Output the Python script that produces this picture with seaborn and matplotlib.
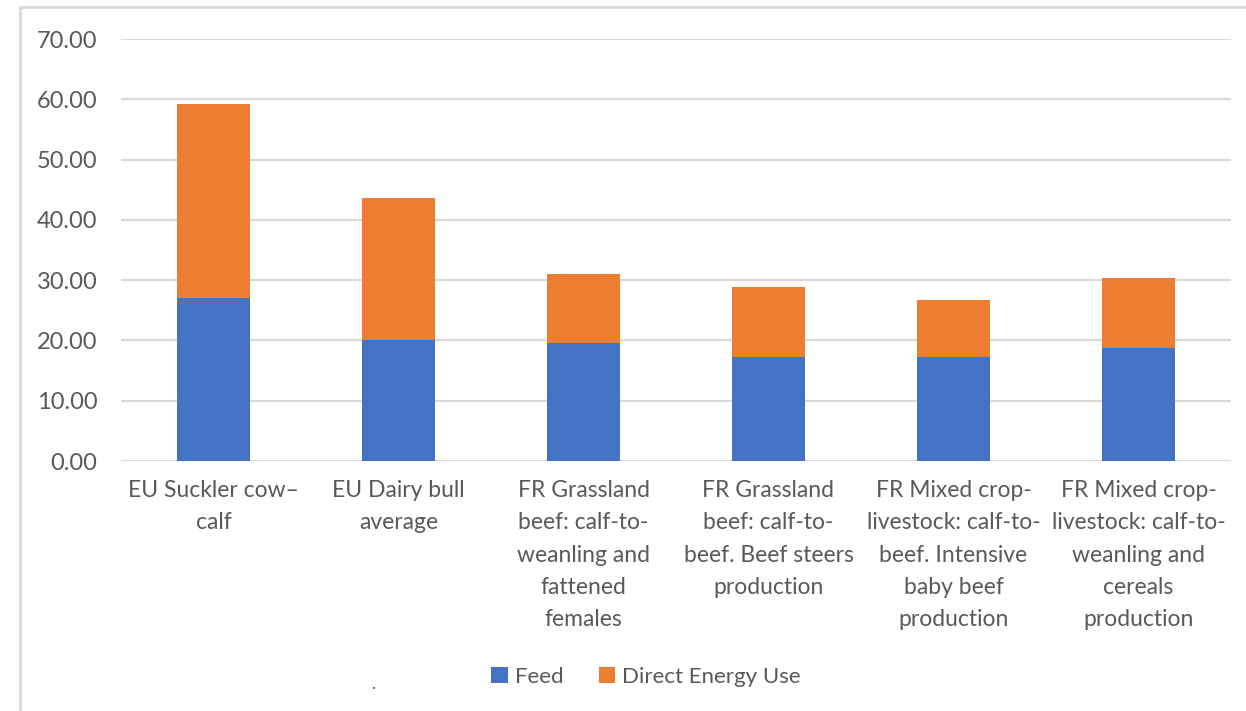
import matplotlib
matplotlib.use("Agg")
import matplotlib.pyplot as plt
from matplotlib.lines import Line2D
from matplotlib.patches import Patch
import seaborn as sns
import pandas as pd

categories = [
    "EU Suckler cow–\ncalf",
    "EU Dairy bull\naverage",
    "FR Grassland\nbeef: calf-to-\nweanling and\nfattened\nfemales",
    "FR Grassland\nbeef: calf-to-\nbeef. Beef steers\nproduction",
    "FR Mixed crop-\nlivestock: calf-to-\nbeef. Intensive\nbaby beef\nproduction",
    "FR Mixed crop-\nlivestock: calf-to-\nweanling and\ncereals\nproduction",
]
feed = [27.1, 20.0, 19.5, 17.3, 17.3, 18.7]
direct_energy = [32.2, 23.7, 11.5, 11.6, 9.4, 11.6]
series_names = ["Feed", "Direct Energy Use"]
y_ticks = [0, 10, 20, 30, 40, 50, 60, 70]

BLUE = "#4472C4"
ORANGE = "#ED7D31"
GRID = "#d9d9d9"
TEXT = "#595959"

sns.set_theme(style="white")
plt.rcParams["font.family"] = ["Lato", "DejaVu Sans"]

df = pd.DataFrame({
    "category": categories,
    "feed": feed,
    "total": [f + d for f, d in zip(feed, direct_energy)],
})

fig = plt.figure(figsize=(12.46, 7.11), dpi=100)
ax = fig.add_axes([121 / 1246, 250 / 711, 1110 / 1246, 422 / 711])

# stacked bars: full height in orange, feed share overlaid in blue
sns.barplot(data=df, x="category", y="total", color=ORANGE, width=0.395,
            saturation=1, linewidth=0, ax=ax, zorder=3)
sns.barplot(data=df, x="category", y="feed", color=BLUE, width=0.395,
            saturation=1, linewidth=0, ax=ax, zorder=4)

ax.set_xlim(-0.5, len(categories) - 0.5)
ax.set_ylim(0, 70)
ax.set_yticks(y_ticks)
ax.set_yticklabels([f"{v:.2f}" for v in y_ticks])
ax.yaxis.grid(True, color=GRID, linewidth=1.6, zorder=0)
ax.set_axisbelow(True)
for s in ax.spines.values():
    s.set_visible(False)
ax.set_xlabel("")
ax.set_ylabel("")
ax.tick_params(axis="y", length=0, pad=17, labelsize=17, labelcolor=TEXT)
ax.tick_params(axis="x", length=0, pad=14, labelsize=16.5, labelcolor=TEXT)
for lbl in ax.get_xticklabels():
    lbl.set_linespacing(1.65)
    lbl.set_verticalalignment("top")

# outer chart frame (top and left edges)
fig.add_artist(Line2D([20 / 1246, 1], [1 - 7 / 711, 1 - 7 / 711],
                      transform=fig.transFigure, color=GRID, linewidth=2))
fig.add_artist(Line2D([20 / 1246, 20 / 1246], [0, 1 - 7 / 711],
                      transform=fig.transFigure, color=GRID, linewidth=2))

handles = [Patch(facecolor=BLUE, edgecolor="none"),
           Patch(facecolor=ORANGE, edgecolor="none")]
fig.legend(handles, series_names, loc="center", ncol=2,
           bbox_to_anchor=(646 / 1246, 1 - 677 / 711), frameon=False,
           fontsize=16, labelcolor=TEXT, handlelength=0.75, handleheight=0.75,
           handletextpad=0.3, columnspacing=1.6)

fig.text(373 / 1246, 1 - 684 / 711, ".", color=TEXT, fontsize=12,
         ha="center", va="center")

fig.savefig("out.png", dpi=100, facecolor="white")
